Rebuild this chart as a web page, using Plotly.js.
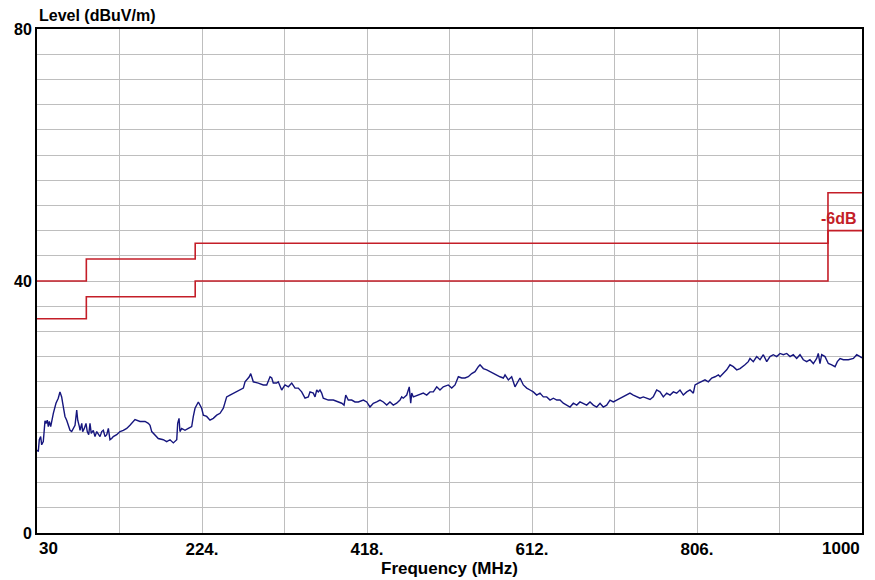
<!DOCTYPE html>
<html>
<head>
<meta charset="utf-8">
<script src="https://cdn.plot.ly/plotly-3.0.1.min.js"></script>
<style>html,body{margin:0;padding:0;background:#fff;}#chart{width:875px;height:580px;}</style>
</head>
<body>
<div id="chart"></div>
<script>
// Measured emission trace (MHz, dBuV/m)
const freqMHz = [30.4,31.5,32.7,34.3,35.5,37.4,38.2,39.4,40.6,42.1,43.3,44.5,46.1,47.3,49.2,52.3,55.0,57.0,59.0,60.2,61.7,62.9,64.9,66.8,68.8,70.8,72.7,74.7,76.7,77.9,79.8,80.6,82.6,83.7,85.6,87.6,89.1,90.8,92.3,93.8,96.2,98.2,100.2,102.1,104.1,106.1,108.0,110.0,112.0,113.9,115.8,117.8,119.7,123.7,127.6,131.5,135.5,139.3,143.2,145.2,151.1,157.0,160.9,162.9,164.9,168.7,172.6,178.5,182.5,186.4,190.3,194.3,195.4,197.0,198.1,200.1,204.0,207.9,211.9,213.8,215.8,219.7,223.6,225.6,229.5,233.4,237.3,241.3,245.2,249.1,253.0,256.9,260.8,264.8,268.7,272.6,274.6,276.6,279.6,281.3,284.3,290.2,296.1,300.1,304.0,306.0,307.8,311.8,313.7,317.7,321.6,325.5,329.5,333.4,337.2,341.2,345.1,349.0,351.0,354.9,356.9,358.9,360.7,362.7,364.7,366.6,372.5,378.4,384.3,388.3,391.0,393.0,396.0,400.0,403.9,407.8,413.7,417.7,421.5,425.4,429.4,433.3,437.2,441.2,445.0,448.9,452.9,456.8,458.8,460.7,464.7,467.7,469.4,470.6,472.5,478.3,484.2,488.2,492.1,496.0,500.0,503.8,507.7,513.6,517.6,521.5,525.4,529.4,533.2,537.1,541.1,545.0,547.0,548.9,550.9,554.8,558.8,562.6,566.5,570.5,574.4,578.3,580.3,584.2,588.1,592.0,595.9,597.9,601.8,605.8,609.7,613.5,617.5,621.4,625.3,629.3,633.2,637.1,641.1,644.9,648.8,652.8,656.7,660.6,664.6,668.4,672.3,676.3,680.2,684.1,688.1,692.0,695.8,699.8,703.7,707.6,711.6,715.5,719.4,723.4,727.2,731.1,735.1,739.0,742.9,746.9,750.8,754.6,758.6,762.5,766.4,770.4,774.3,778.2,782.1,786.0,789.9,793.9,797.8,801.7,803.7,807.6,811.5,815.4,819.3,823.3,827.2,831.1,833.1,837.0,840.9,844.8,848.7,852.7,856.6,862.4,866.3,868.3,872.2,876.2,880.1,884.0,888.0,891.8,895.7,899.7,903.6,907.5,911.5,915.4,919.2,923.2,927.1,931.0,935.0,938.8,942.8,946.7,948.6,950.6,952.6,956.5,960.4,964.4,968.3,971.0,974.2,978.1,984.0,989.9,993.8,997.7,1000];
const levelDb = [13.2,12.9,14.8,15.3,14.0,14.5,15.8,17.8,17.4,17.9,16.9,17.7,16.9,17.9,19.0,20.6,21.4,22.4,21.6,20.6,19.5,18.5,17.9,17.1,16.3,16.1,16.6,17.1,19.5,17.9,16.9,16.3,17.4,16.1,16.6,17.4,16.1,15.6,17.4,15.8,16.3,15.3,16.1,15.6,15.3,16.1,16.3,15.3,15.6,16.6,14.8,15.0,15.3,15.6,16.1,16.3,16.6,17.1,17.7,18.0,17.7,17.7,17.4,17.1,16.1,15.6,15.0,14.8,14.5,14.8,14.3,14.8,17.4,18.2,16.1,16.6,16.3,16.6,16.9,18.5,19.8,20.8,19.8,18.7,18.5,17.9,18.2,18.7,19.0,19.8,21.6,21.9,22.2,22.4,22.7,23.0,24.0,24.3,24.8,25.3,24.0,23.8,23.5,23.5,24.8,24.6,23.8,23.8,24.0,22.7,23.5,23.2,23.8,23.0,23.0,22.4,21.4,21.6,22.4,22.2,21.6,22.7,22.4,22.7,22.2,21.4,21.1,21.1,20.8,20.6,20.3,21.9,21.1,21.1,20.8,20.8,21.1,20.8,20.0,20.6,20.8,21.1,20.8,20.3,20.8,20.3,20.6,21.1,21.6,21.4,21.9,23.2,20.6,22.2,21.6,21.9,22.2,21.9,22.4,22.4,23.2,22.7,23.2,23.5,23.0,23.5,24.8,24.6,24.6,24.8,25.3,25.6,26.1,26.4,26.7,26.1,25.9,25.6,25.3,25.1,24.8,24.6,25.1,24.3,24.8,23.2,24.0,24.6,23.5,23.0,22.7,22.4,21.9,22.2,21.6,21.6,21.1,21.4,21.1,21.1,20.6,20.3,20.0,20.6,20.3,20.8,20.6,20.3,20.8,20.3,20.0,20.6,20.0,20.3,21.1,20.8,21.1,21.4,21.6,21.9,22.2,21.9,21.6,21.4,21.6,21.4,21.2,21.6,22.7,22.4,21.6,22.2,21.9,22.4,22.2,22.7,21.9,22.4,22.7,22.2,23.5,23.8,24.0,24.3,24.0,24.6,24.8,25.1,24.8,25.3,25.9,26.7,26.4,25.9,26.1,26.7,27.2,27.7,27.2,28.0,27.5,28.3,27.2,28.0,28.3,28.0,28.5,28.3,28.5,28.0,28.3,27.7,28.3,27.5,27.2,27.5,26.9,27.7,28.5,26.9,28.3,28.0,26.9,26.7,26.4,27.2,27.7,27.5,27.5,27.7,28.3,28.0,27.8];

// Limit lines (step functions)
const limitFreq = [30, 88, 216, 960, 1000];
const limitQP = [40, 43.5, 46, 54, 54];
const limitMargin = [34, 37.5, 40, 48, 48];

// Axis ticks
const xTickVals = [224, 418, 612, 806];
const xTickText = ['224.', '418.', '612.', '806.'];
const xEdgeVals = [30, 1000];
const xEdgeText = ['30', '1000'];
const yTickVals = [0, 40, 80];
const yTickText = ['0', '40', '80'];

const narrow = 'Liberation Sans Narrow, Arial Narrow, Liberation Sans, Arial, sans-serif';
const sans = 'Liberation Sans, Arial, sans-serif';
const red = '#c41e28';

const traces = [
  {x: limitFreq, y: limitQP, mode: 'lines', line: {color: red, width: 1.6, shape: 'hv'}, hoverinfo: 'skip'},
  {x: limitFreq, y: limitMargin, mode: 'lines', line: {color: red, width: 1.6, shape: 'hv'}, hoverinfo: 'skip'},
  {x: freqMHz, y: levelDb, mode: 'lines', line: {color: '#16167e', width: 1.4}, hoverinfo: 'skip'}
];

const annotations = [
  {xref: 'paper', yref: 'paper', x: 0, y: 1, xanchor: 'left', yanchor: 'bottom', yshift: 3, showarrow: false,
   text: 'Level (dBuV/m)', font: {family: sans, size: 16, weight: 'bold', color: '#000'}},
  {xref: 'x', yref: 'y', x: 996, y: 50, xanchor: 'right', yanchor: 'middle', showarrow: false,
   text: '-6dB', font: {family: sans, size: 16, weight: 'bold', color: red}}
];
xEdgeVals.forEach((v, i) => {
  annotations.push({xref: 'x', yref: 'paper', x: v, y: 0, yanchor: 'top', yshift: -4,
    xanchor: i === 0 ? 'left' : 'right', showarrow: false, text: xEdgeText[i],
    font: {family: narrow, size: 17, weight: 'bold', color: '#000'}});
});

const layout = {
  width: 875, height: 580,
  margin: {l: 37, r: 13, t: 29, b: 47},
  paper_bgcolor: '#fff', plot_bgcolor: '#fff',
  showlegend: false,
  xaxis: {
    range: [30, 1000], tickvals: xTickVals, ticktext: xTickText, ticks: '',
    showgrid: true, gridcolor: '#bebebe', gridwidth: 1,
    minor: {tick0: 30, dtick: 97, showgrid: true, gridcolor: '#bebebe', gridwidth: 1, ticks: ''},
    showline: true, linecolor: '#000', linewidth: 2, mirror: true, zeroline: false,
    tickfont: {family: narrow, size: 17, weight: 'bold', color: '#000'},
    title: {text: 'Frequency (MHz)', font: {family: narrow, size: 17, weight: 'bold', color: '#000'}, standoff: 2}
  },
  yaxis: {
    range: [0, 80], tickvals: yTickVals, ticktext: yTickText, ticks: '',
    showgrid: true, gridcolor: '#bebebe', gridwidth: 1,
    minor: {tick0: 0, dtick: 4, showgrid: true, gridcolor: '#bebebe', gridwidth: 1, ticks: ''},
    showline: true, linecolor: '#000', linewidth: 2, mirror: true, zeroline: false,
    tickfont: {family: sans, size: 16, weight: 'bold', color: '#000'}
  },
  annotations: annotations
};

Plotly.newPlot('chart', traces, layout, {staticPlot: true, displayModeBar: false});
</script>
</body>
</html>
